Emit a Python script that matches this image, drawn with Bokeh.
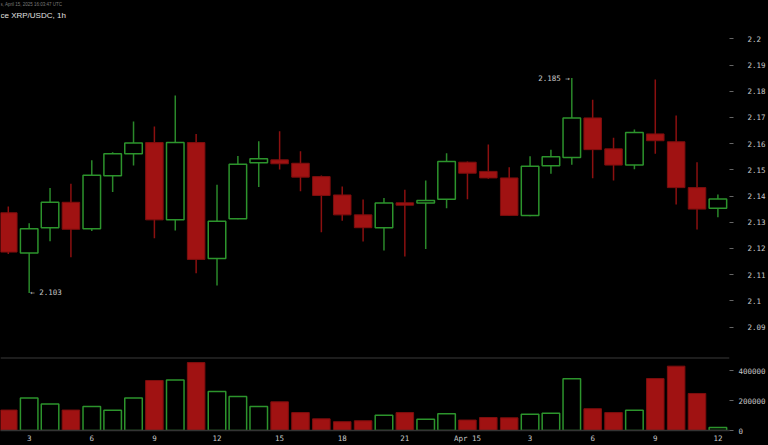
from bokeh.plotting import figure
from bokeh.layouts import column
from bokeh.models import Range1d, FixedTicker, Label, Span, ColumnDataSource
from bokeh.embed import file_html
from bokeh.resources import INLINE

# ---- data (hour of Apr 14, 1h candles; 24 = Apr 15 00:00) ----
HOURS = [2, 3, 4, 5, 6, 7, 8, 9, 10, 11, 12, 13, 14, 15, 16, 17, 18, 19, 20,
         21, 22, 23, 24, 25, 26, 27, 28, 29, 30, 31, 32, 33, 34, 35, 36]
OPEN = [2.1336, 2.1182, 2.1279, 2.1376, 2.1275, 2.1477, 2.1561, 2.1604, 2.1309, 2.1604,
        2.1161, 2.1313, 2.1527, 2.1538, 2.1525, 2.1474, 2.1404, 2.1328, 2.1279, 2.1374,
        2.1373, 2.1388, 2.1529, 2.1494, 2.1469, 2.1326, 2.1515, 2.1547, 2.1698, 2.1580,
        2.1518, 2.1637, 2.1607, 2.1432, 2.1353]
HIGH = [2.1360, 2.1296, 2.1431, 2.1447, 2.1536, 2.1567, 2.1684, 2.1665, 2.1784, 2.1637,
        2.1443, 2.1553, 2.1609, 2.1647, 2.1571, 2.1478, 2.1436, 2.1387, 2.1392, 2.1424,
        2.1459, 2.1563, 2.1532, 2.1597, 2.1510, 2.1552, 2.1577, 2.1850, 2.1767, 2.1622,
        2.1654, 2.1845, 2.1707, 2.1529, 2.1406]
LOW = [2.1179, 2.1030, 2.1227, 2.1166, 2.1266, 2.1415, 2.1516, 2.1239, 2.1268, 2.1105,
       2.1058, 2.1311, 2.1434, 2.1501, 2.1418, 2.1262, 2.1306, 2.1226, 2.1192, 2.1169,
       2.1198, 2.1353, 2.1388, 2.1466, 2.1325, 2.1323, 2.1485, 2.1519, 2.1468, 2.1459,
       2.1502, 2.1561, 2.1368, 2.1272, 2.1319]
CLOSE = [2.1186, 2.1275, 2.1376, 2.1273, 2.1479, 2.1561, 2.1602, 2.1309, 2.1604, 2.1158,
         2.1304, 2.1521, 2.1542, 2.1523, 2.1472, 2.1402, 2.1328, 2.1279, 2.1373, 2.1365,
         2.1383, 2.1532, 2.1487, 2.1469, 2.1326, 2.1514, 2.1550, 2.1698, 2.1577, 2.1518,
         2.1642, 2.1611, 2.1432, 2.1350, 2.1389]
VOLUME = [137000, 218000, 178000, 137000, 161000, 135000, 218000, 335000, 338000, 455000,
          261000, 227000, 161000, 192000, 120000, 78000, 59000, 65000, 102000, 120000,
          76000, 113000, 70000, 87000, 85000, 109000, 116000, 346000, 146000, 120000,
          135000, 348000, 431000, 248000, 20000]

PRICE_TICKS = [2.09, 2.10, 2.11, 2.12, 2.13, 2.14, 2.15, 2.16, 2.17, 2.18, 2.19, 2.20]
PRICE_TICK_LABELS = ["2.09", "2.1", "2.11", "2.12", "2.13", "2.14", "2.15", "2.16",
                     "2.17", "2.18", "2.19", "2.2"]
VOL_TICKS = [0, 200000, 400000]
VOL_TICK_LABELS = ["0", "200000", "400000"]
X_TICKS = [3, 6, 9, 12, 15, 18, 21, 24, 27, 30, 33, 36]
X_TICK_LABELS = ["3", "6", "9", "12", "15", "18", "21", "Apr 15", "3", "6", "9", "12"]
TITLE = "ce XRP/USDC, 1h"
HEADER = "s, April 15, 2025 16:03:47 UTC"
NOW_LABEL = "Now"
NOW_X = 38.0

# ---- view extents ----
X_START, X_END = 1.626, 36.556
PRICE_BOTTOM, PRICE_TOP = 2.07836, 2.21462
HEADER_BOTTOM = 2.21195
VOL_MAX = 489000

GREEN = "#2c942c"
GREEN_WICK = "#2a882a"
RED = "#a01212"
RED_EDGE = "#7d0e0e"
RED_WICK = "#8b1010"
TXT = "#c8c8c8"
MONO = "DejaVu Sans Mono"
FS = "7.5px"

up = [c >= o for o, c in zip(OPEN, CLOSE)]


def subset(mask):
    idx = [i for i, m in enumerate(mask) if m]
    return ColumnDataSource(dict(
        x=[HOURS[i] for i in idx],
        top=[max(OPEN[i], CLOSE[i]) for i in idx],
        bottom=[min(OPEN[i], CLOSE[i]) for i in idx],
        high=[HIGH[i] for i in idx],
        low=[LOW[i] for i in idx],
        vol=[VOLUME[i] for i in idx],
    ))


src_up = subset(up)
src_dn = subset([not u for u in up])


def style_right_axis(ax, ticks, labels, standoff):
    ax.ticker = FixedTicker(ticks=ticks)
    ax.major_label_overrides = {t: l for t, l in zip(ticks, labels)}
    ax.axis_line_color = None
    ax.major_tick_line_color = "#666666"
    ax.major_tick_out = 4
    ax.major_tick_in = 0
    ax.minor_tick_line_color = None
    ax.major_label_text_color = TXT
    ax.major_label_text_font = MONO
    ax.major_label_text_font_size = FS
    ax.major_label_standoff = standoff


# ---- price panel ----
p = figure(width=768, height=357, output_backend="svg", toolbar_location=None, tools="",
           x_range=Range1d(X_START, X_END), y_range=Range1d(PRICE_BOTTOM, PRICE_TOP),
           x_axis_location=None, y_axis_location="right",
           background_fill_color="black", border_fill_color="black",
           outline_line_color=None,
           min_border_left=0, min_border_right=39, min_border_top=0, min_border_bottom=0)
p.grid.visible = False

p.add_layout(Label(x=X_START, y=PRICE_TOP, text=HEADER, text_align="left",
                   text_baseline="top", x_offset=0, y_offset=-1,
                   text_color="#7a7a7a", text_font="Liberation Sans", text_font_size="4.5px"))

p.segment(x0="x", y0="low", x1="x", y1="high", source=src_up, line_color=GREEN_WICK, line_width=1.5)
p.segment(x0="x", y0="low", x1="x", y1="high", source=src_dn, line_color=RED_WICK, line_width=1.5)
p.vbar(x="x", top="top", bottom="bottom", width=0.84, source=src_up,
       fill_color="black", line_color=GREEN, line_width=1.5)
p.vbar(x="x", top="top", bottom="bottom", width=0.84, source=src_dn,
       fill_color=RED, line_color=RED_EDGE, line_width=1)

style_right_axis(p.yaxis[0], PRICE_TICKS, PRICE_TICK_LABELS, 14)

lo_i = LOW.index(min(LOW))
hi_i = HIGH.index(max(HIGH))
p.add_layout(Label(x=HOURS[lo_i], y=LOW[lo_i], text="\u2190 %.3f" % LOW[lo_i],
                   text_align="left", text_baseline="middle", x_offset=1,
                   text_color=TXT, text_font=MONO, text_font_size=FS))
p.add_layout(Label(x=HOURS[hi_i], y=HIGH[hi_i], text="%.3f \u2192" % HIGH[hi_i],
                   text_align="right", text_baseline="middle", x_offset=-2,
                   text_color=TXT, text_font=MONO, text_font_size=FS))
p.add_layout(Label(x=X_START, y=HEADER_BOTTOM, text=TITLE, text_align="left",
                   text_baseline="top", x_offset=0, y_offset=-4,
                   text_color="#e0e0e0", text_font="Liberation Sans", text_font_size="8px"))

# ---- volume panel ----
v = figure(width=768, height=88, output_backend="svg", toolbar_location=None, tools="",
           x_range=p.x_range, y_range=Range1d(0, VOL_MAX),
           y_axis_location="right",
           background_fill_color="black", border_fill_color="black",
           outline_line_color=None,
           min_border_left=0, min_border_right=39, min_border_top=0, min_border_bottom=13)
v.grid.visible = False
v.vbar(x="x", top="vol", bottom=0, width=0.84, source=src_up,
       fill_color="black", line_color=GREEN, line_width=1.5)
v.vbar(x="x", top="vol", bottom=0, width=0.84, source=src_dn,
       fill_color=RED, line_color=RED_EDGE, line_width=1)
v.add_layout(Span(location=VOL_MAX, dimension="width", line_color="#3a3a3a", line_width=2))

style_right_axis(v.yaxis[0], VOL_TICKS, VOL_TICK_LABELS, 5)

vx = v.xaxis[0]
vx.ticker = FixedTicker(ticks=X_TICKS)
vx.major_label_overrides = {t: l for t, l in zip(X_TICKS, X_TICK_LABELS)}
vx.axis_line_color = "#333333"
vx.axis_line_width = 1.5
vx.major_tick_out = 0
vx.major_tick_in = 0
vx.minor_tick_line_color = None
vx.major_tick_line_color = None
vx.major_label_text_color = TXT
vx.major_label_text_font = MONO
vx.major_label_text_font_size = FS
vx.major_label_standoff = 3

v.add_layout(Label(x=NOW_X, y=0, text=NOW_LABEL, text_align="center", text_baseline="top",
                   y_offset=-3, text_color=TXT, text_font=MONO, text_font_size=FS))

layout = column(p, v, spacing=0)
html = file_html(layout, INLINE)
html = html.replace("</head>",
                    "<style>html, body { background-color: #000000 !important; }</style>\n</head>", 1)
open("out.html", "w").write(html)
